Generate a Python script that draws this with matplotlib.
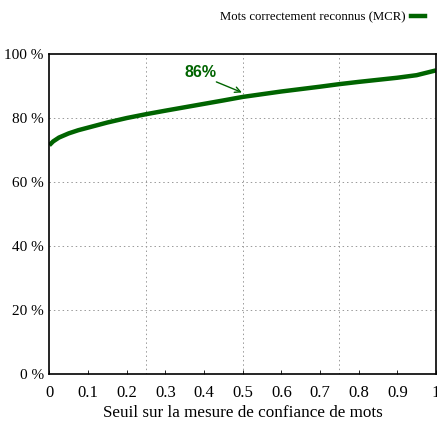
import matplotlib.pyplot as plt
from matplotlib.lines import Line2D

GREEN = '#006400'

# seuil sur la mesure de confiance
seuil = [0.0, 0.01, 0.025, 0.05, 0.075, 0.1, 0.15, 0.2, 0.25, 0.3, 0.375,
         0.45, 0.5, 0.6, 0.7, 0.75, 0.8, 0.9, 0.95, 1.0]
# mots correctement reconnus (%)
mcr = [71.5, 72.7, 73.9, 75.2, 76.2, 77.0, 78.6, 80.0, 81.2, 82.3, 83.9,
       85.5, 86.6, 88.3, 89.8, 90.6, 91.3, 92.6, 93.4, 94.9]

y_ticks = [0, 20, 40, 60, 80, 100]
y_labels = ['0 %', '20 %', '40 %', '60 %', '80 %', '100 %']
x_ticks = [0, 0.1, 0.2, 0.3, 0.4, 0.5, 0.6, 0.7, 0.8, 0.9, 1]
x_labels = ['0', '0.1', '0.2', '0.3', '0.4', '0.5', '0.6', '0.7', '0.8', '0.9', '1']

plt.rcParams['font.family'] = ['Liberation Serif', 'DejaVu Serif']

fig = plt.figure(figsize=(4.37, 4.21), dpi=100)
ax = fig.add_axes([0.1128, 0.1116, 0.8849, 0.7600])

ax.plot(seuil, mcr, color=GREEN, lw=3.2, solid_capstyle='butt')

ax.set_xlim(0, 1)
ax.set_ylim(0, 100)
ax.set_yticks(y_ticks)
ax.set_yticklabels(y_labels, fontsize=11)
ax.set_xticks(x_ticks)
ax.set_xticklabels(x_labels, fontsize=12)
ax.tick_params(axis='x', direction='in', length=3, width=0.6, pad=8)
ax.tick_params(axis='y', length=0, pad=4)

for y in [20, 40, 60, 80]:
    ax.axhline(y, color='#999999', lw=0.7, ls=(0, (1.5, 3)), zorder=0)
for x in [0.25, 0.5, 0.75]:
    ax.axvline(x, color='#999999', lw=0.7, ls=(0, (1.5, 3)), zorder=0)

for s in ax.spines.values():
    s.set_linewidth(1.2)

ax.set_xlabel('Seuil sur la mesure de confiance de mots', fontsize=12.3,
              labelpad=3)

# annotation 86%
ax.text(0.392, 94.2, '86%', color=GREEN, fontsize=11.5, fontweight='bold',
        family='Liberation Sans', ha='center', va='center')
ax.annotate('', xy=(0.498, 88.0), xytext=(0.432, 91.3),
            arrowprops=dict(arrowstyle='->', color=GREEN, lw=1.0,
                            shrinkA=0, shrinkB=0))

handle = Line2D([], [], color=GREEN, lw=3.2)
fig.legend([handle], ['Mots correctement reconnus (MCR)'],
           loc='upper right', bbox_to_anchor=(0.992, 0.995), frameon=False,
           markerfirst=False, handlelength=1.1, handletextpad=0.4,
           fontsize=9.2, borderaxespad=0.3)

fig.savefig('out.png', dpi=100)
